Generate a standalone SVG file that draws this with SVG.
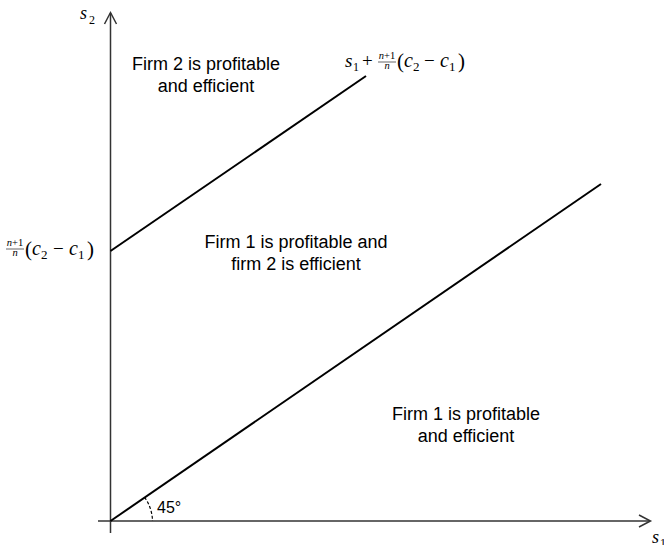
<svg xmlns="http://www.w3.org/2000/svg" width="664" height="545" viewBox="0 0 664 545">
<style>
.lbl{font-family:"Liberation Sans",Arial,sans-serif;font-size:18px;fill:#000;text-anchor:middle}
.m{font-family:"Liberation Serif","Times New Roman",serif;fill:#000}
.it{font-style:italic}
.axis{stroke:#333;stroke-width:1.5;fill:none}
.ln{stroke:#000;stroke-width:2;fill:none}
</style>
<rect width="664" height="545" fill="#fff"/>
<g id="connectors">
  <line class="axis" x1="110.5" y1="533" x2="110.5" y2="13"/>
  <polyline class="axis" points="104.5,24 110.5,12.5 116.5,24"/>
  <line class="axis" x1="98" y1="521" x2="650" y2="521"/>
  <polyline class="axis" points="639,515 650.5,521 639,527"/>
  <line class="ln" x1="110.5" y1="521" x2="601" y2="184"/>
  <line class="ln" x1="110.5" y1="251" x2="366" y2="76"/>
  <path d="M 144.6 497.3 A 42 42 0 0 1 152.5 521" fill="none" stroke="#000" stroke-width="1.2" stroke-dasharray="3,2"/>
</g>
<g id="axis-labels">
  <text class="m it" x="80" y="19" font-size="18">s</text>
  <text class="m" x="89" y="24" font-size="12">2</text>
  <text class="m it" x="652" y="543" font-size="18">s</text>
  <text class="m" x="660" y="547" font-size="12">1</text>
  <text x="157" y="513" font-family="Liberation Sans,Arial,sans-serif" font-size="16">45°</text>
</g>
<g id="region-firm2">
  <text class="lbl" x="206" y="70">Firm 2 is profitable</text>
  <text class="lbl" x="206" y="92">and efficient</text>
</g>
<g id="region-middle">
  <text class="lbl" x="296" y="248">Firm 1 is profitable and</text>
  <text class="lbl" x="296" y="270">firm 2 is efficient</text>
</g>
<g id="region-firm1">
  <text class="lbl" x="466" y="420">Firm 1 is profitable</text>
  <text class="lbl" x="466" y="442">and efficient</text>
</g>
<g id="upper-formula">
  <text class="m it" x="345" y="67" font-size="19">s</text>
  <text class="m" x="353" y="71" font-size="12">1</text>
  <text class="m" x="362" y="67" font-size="19">+</text>
  <text class="m" x="387" y="59" font-size="10.5" text-anchor="middle"><tspan font-style="italic">n</tspan>+1</text>
  <line x1="378" y1="62" x2="396" y2="62" stroke="#000" stroke-width="0.6"/>
  <text class="m it" x="387" y="69" font-size="10.5" text-anchor="middle">n</text>
  <text class="m" x="397" y="68" font-size="21">(</text>
  <text class="m it" x="404" y="67" font-size="20">c</text>
  <text class="m" x="413" y="71" font-size="13">2</text>
  <text class="m" x="424" y="67" font-size="19">−</text>
  <text class="m it" x="440" y="67" font-size="20">c</text>
  <text class="m" x="449" y="71" font-size="13">1</text>
  <text class="m" x="458" y="68" font-size="21">)</text>
</g>
<g id="left-formula">
  <text class="m" x="15" y="246" font-size="10.5" text-anchor="middle"><tspan font-style="italic">n</tspan>+1</text>
  <line x1="6" y1="249" x2="24" y2="249" stroke="#000" stroke-width="0.6"/>
  <text class="m it" x="15" y="256" font-size="10.5" text-anchor="middle">n</text>
  <text class="m" x="25" y="256" font-size="21">(</text>
  <text class="m it" x="32" y="255" font-size="20">c</text>
  <text class="m" x="41" y="259" font-size="13">2</text>
  <text class="m" x="53" y="255" font-size="19">−</text>
  <text class="m it" x="69" y="255" font-size="20">c</text>
  <text class="m" x="78" y="259" font-size="13">1</text>
  <text class="m" x="87" y="256" font-size="21">)</text>
</g>
</svg>
